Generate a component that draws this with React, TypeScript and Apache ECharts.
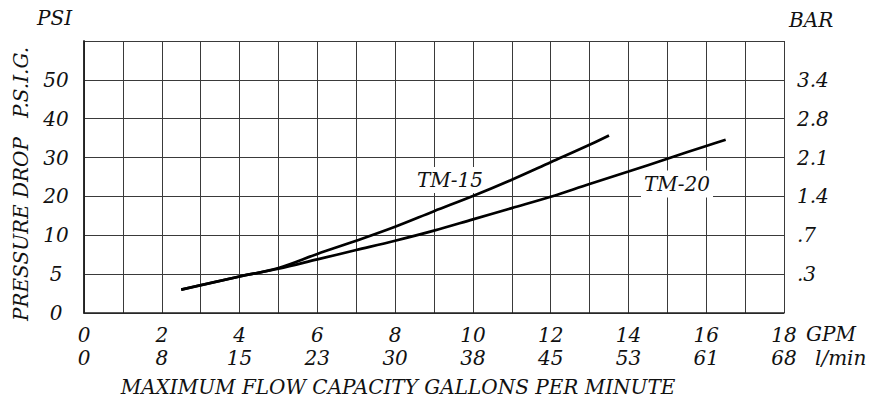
import React, { useEffect, useRef } from "react";
import * as echarts from "echarts";

// Axis tick values (left axis in PSI is non-linear: each grid row is one stop)
const psiStops = [0, 5, 10, 20, 30, 40, 50, 60];
const psiLabels = ["0", "5", "10", "20", "30", "40", "50", ""];
const barLabels = ["", ".3", ".7", "1.4", "2.1", "2.8", "3.4", ""];
const gpmLabels = ["0", "2", "4", "6", "8", "10", "12", "14", "16", "18"];
const lpmLabels = ["0", "8", "15", "23", "30", "38", "45", "53", "61", "68"];

// Series values: flow (GPM) and pressure drop (PSI)
const tm15Gpm = [2.5, 4, 5, 6, 7, 8, 9, 10, 11, 12, 13, 13.5];
const tm15Psi = [3.0, 4.7, 5.8, 7.6, 9.3, 12.2, 16.2, 20.1, 24.3, 28.8, 33.3, 35.7];
const tm20Gpm = [2.5, 4, 5, 6, 7, 8, 9, 10, 11, 12, 13, 14, 15, 16, 16.5];
const tm20Psi = [3.0, 4.7, 5.7, 6.9, 8.1, 9.3, 11.2, 14.1, 17.0, 19.9, 23.2, 26.4, 29.7, 33.0, 34.6];

// map a PSI value to the axis position (grid row index) of the piecewise scale
function psiToRow(p: number): number {
  for (let i = 0; i < psiStops.length - 1; i++) {
    const a = psiStops[i];
    const b = psiStops[i + 1];
    if (p <= b) return i + (p - a) / (b - a);
  }
  return psiStops.length - 1;
}

const FONT = "DejaVu Serif";
const TXT = "#111";

export default function App() {
  const ref = useRef<HTMLDivElement>(null);
  useEffect(() => {
    if (!ref.current) return;
    const chart = echarts.init(ref.current, null, { renderer: "svg" });
    const labelStyle = {
      fontFamily: FONT,
      fontStyle: "italic" as const,
      fontSize: 20,
      color: TXT,
    };
    const gridLine = { show: true, lineStyle: { color: "#3a3a3a", width: 1 } };
    const mkSeries = (name: string, g: number[], p: number[]) => ({
      name,
      type: "line",
      xAxisIndex: 0,
      yAxisIndex: 0,
      data: g.map((x, i) => [x, psiToRow(p[i])]),
      showSymbol: false,
      smooth: 0.35,
      lineStyle: { color: "#000", width: 2.7 },
      z: 5,
    });
    const txt = (text: string, x: number, y: number, align: string, extra: any = {}, z = 100) => ({
      type: "text",
      x,
      y,
      z,
      style: {
        text,
        fill: TXT,
        font: `italic 20px "${FONT}"`,
        align,
        verticalAlign: "middle",
        ...extra,
      },
    });
    chart.setOption({
      animation: false,
      backgroundColor: "#fff",
      grid: { left: 84, right: 93, top: 41, bottom: 87 },
      xAxis: [
        {
          type: "value",
          min: 0,
          max: 18,
          interval: 1,
          position: "bottom",
          axisLine: { show: true, lineStyle: { color: "#222", width: 1.5 } },
          axisTick: { show: false },
          splitLine: gridLine,
          axisLabel: {
            ...labelStyle,
            margin: 12,
            formatter: (v: number) => (v % 2 === 0 ? gpmLabels[v / 2] : ""),
          },
        },
        {
          type: "value",
          min: 0,
          max: 18,
          interval: 1,
          position: "bottom",
          axisLine: { show: false },
          axisTick: { show: false },
          splitLine: { show: false },
          axisLabel: {
            ...labelStyle,
            margin: 35,
            formatter: (v: number) => (v % 2 === 0 ? lpmLabels[v / 2] : ""),
          },
        },
      ],
      yAxis: [
        {
          type: "value",
          min: 0,
          max: 7,
          interval: 1,
          position: "left",
          axisLine: { show: true, lineStyle: { color: "#222", width: 1.5 } },
          axisTick: { show: false },
          splitLine: gridLine,
          axisLabel: {
            ...labelStyle,
            margin: 28,
            align: "center",
            formatter: (v: number) => psiLabels[v] ?? "",
          },
        },
        {
          type: "value",
          min: 0,
          max: 7,
          interval: 1,
          position: "right",
          axisLine: { show: true, lineStyle: { color: "#222", width: 1.5 } },
          axisTick: { show: false },
          splitLine: { show: false },
          axisLabel: {
            ...labelStyle,
            margin: 13,
            align: "left",
            formatter: (v: number) => barLabels[v] ?? "",
          },
        },
      ],
      series: [mkSeries("TM-15", tm15Gpm, tm15Psi), mkSeries("TM-20", tm20Gpm, tm20Psi)],
      graphic: [
        txt("PSI", 37, 18, "left"),
        txt("BAR", 789, 20, "left"),
        txt("GPM", 806, 334, "left"),
        txt("l/min", 815, 358, "left"),
        txt("MAXIMUM FLOW CAPACITY GALLONS PER MINUTE", 398, 387, "center"),
        {
          type: "text",
          x: 21,
          y: 184,
          rotation: Math.PI / 2,
          z: 100,
          style: {
            text: "PRESSURE DROP   P.S.I.G.",
            fill: TXT,
            font: `italic 20px "${FONT}"`,
            align: "center",
            verticalAlign: "middle",
          },
        },
        txt("TM-15", 450, 180, "center", { backgroundColor: "#fff", padding: [6, 3, 0, 3] }, 3),
        txt("TM-20", 677, 184, "center", { backgroundColor: "#fff", padding: [6, 3, 1, 3] }, 3),
      ],
    });
    return () => chart.dispose();
  }, []);
  return (
    <div
      ref={ref}
      style={{ position: "absolute", left: 0, top: 0, width: 877, height: 400 }}
    />
  );
}
